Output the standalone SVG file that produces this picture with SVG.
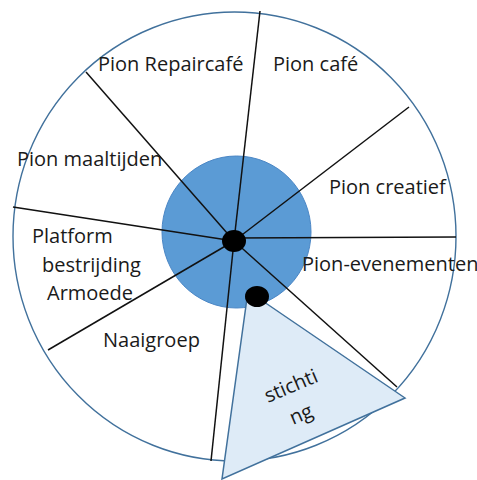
<svg xmlns="http://www.w3.org/2000/svg" width="477" height="480" viewBox="0 0 477 480">
  <style>
    .lbl { font-family: "Open Sans", "Liberation Sans", sans-serif; font-size: 20px; fill: #1a1a1a; }
    .spoke { stroke: #111; stroke-width: 1.5; fill: none; }
    .dot { fill: #000; }
  </style>
  <rect width="477" height="480" fill="#ffffff"/>
  <g id="outer-circle">
    <ellipse cx="234.5" cy="236.5" rx="221.5" ry="224.5" fill="#ffffff" stroke="#41719C" stroke-width="1.4"/>
  </g>
  <g id="hub">
    <ellipse cx="236.5" cy="232" rx="74.5" ry="76" fill="#5B9BD5" stroke="#4A86C5" stroke-width="1"/>
  </g>
  <g id="connectors">
    <line class="spoke" x1="234" y1="241" x2="260" y2="11"/>
    <line class="spoke" x1="234" y1="241" x2="86" y2="72"/>
    <line class="spoke" x1="234" y1="241" x2="409" y2="107"/>
    <line class="spoke" x1="234" y1="241" x2="13" y2="207"/>
    <line class="spoke" x1="234" y1="238" x2="456" y2="237"/>
    <line class="spoke" x1="234" y1="241" x2="48" y2="350"/>
    <line class="spoke" x1="234" y1="241" x2="211" y2="461"/>
    <line class="spoke" x1="234" y1="241" x2="397" y2="387"/>
  </g>
  <g id="pion-repaircafe"><text class="lbl" x="98" y="71">Pion Repaircafé</text></g>
  <g id="pion-cafe"><text class="lbl" x="273" y="71">Pion café</text></g>
  <g id="pion-maaltijden"><text class="lbl" x="17" y="166">Pion maaltijden</text></g>
  <g id="pion-creatief"><text class="lbl" x="329" y="194">Pion creatief</text></g>
  <g id="platform">
    <text class="lbl" x="32" y="243">Platform</text>
    <text class="lbl" x="42" y="272">bestrijding</text>
    <text class="lbl" x="47" y="300">Armoede</text>
  </g>
  <g id="pion-evenementen"><text class="lbl" x="302" y="271">Pion-evenementen</text></g>
  <g id="naaigroep"><text class="lbl" x="103" y="347">Naaigroep</text></g>
  <g id="stichting">
    <polygon points="248,291 405,398 222,479" fill="#DEEBF7" stroke="#41719C" stroke-width="1.5" stroke-linejoin="miter"/>
    <text class="lbl" x="268" y="403" transform="rotate(-23 268 403)">stichti</text>
    <text class="lbl" x="293" y="425" transform="rotate(-23 293 425)">ng</text>
  </g>
  <g id="center-dot"><ellipse class="dot" cx="234" cy="241" rx="12" ry="11"/></g>
  <g id="stichting-dot"><ellipse class="dot" cx="257" cy="296.5" rx="12" ry="10.5"/></g>
</svg>
